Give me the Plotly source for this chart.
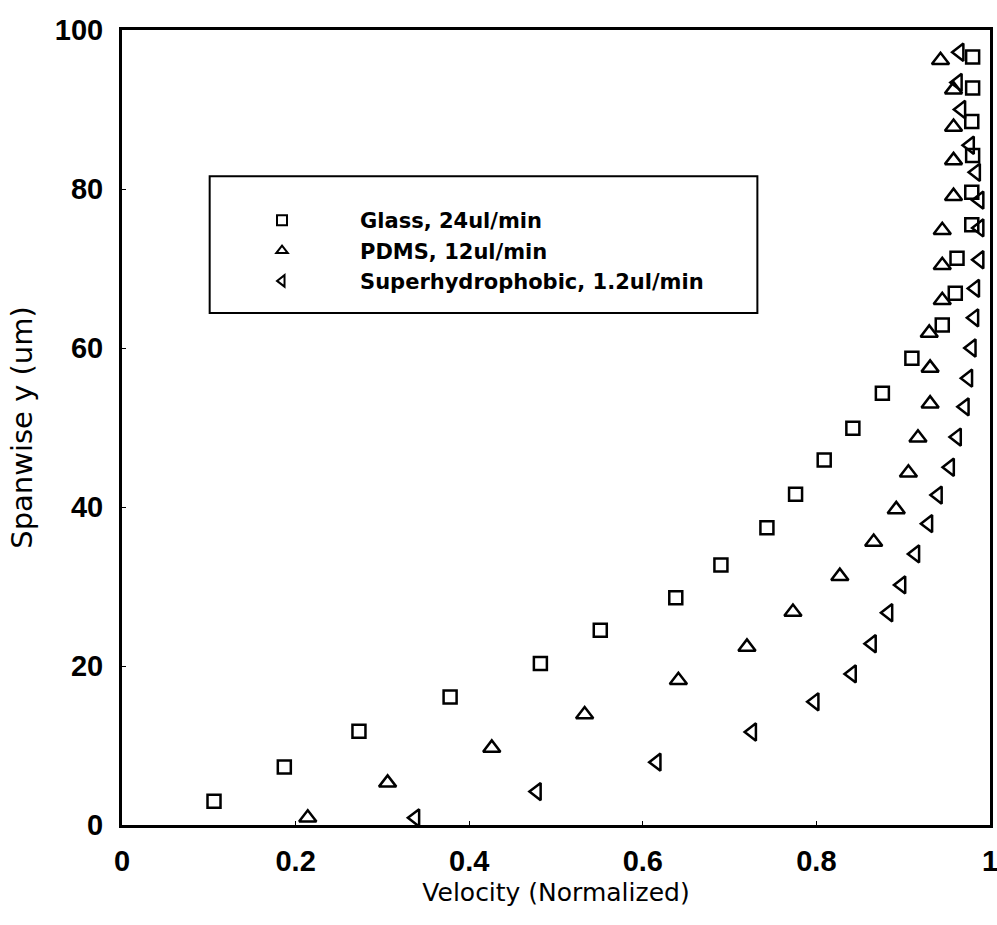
import plotly.graph_objects as go

# Glass, 24ul/min (squares)
glass_x = [0.106, 0.187, 0.273, 0.378, 0.482, 0.551, 0.638, 0.690, 0.743, 0.776, 0.809, 0.842,
           0.876, 0.910, 0.945, 0.960, 0.962, 0.979, 0.979, 0.980, 0.979, 0.980, 0.980]
glass_y = [3.0, 7.3, 11.8, 16.1, 20.3, 24.5, 28.6, 32.7, 37.4, 41.6, 45.9, 49.9,
           54.3, 58.7, 62.9, 66.9, 71.3, 75.5, 79.6, 84.2, 88.5, 92.7, 96.6]

# PDMS, 12ul/min (triangles up)
pdms_x = [0.214, 0.306, 0.426, 0.533, 0.641, 0.720, 0.773, 0.827, 0.866, 0.892, 0.906, 0.917,
          0.931, 0.931, 0.930, 0.945, 0.945, 0.945, 0.958, 0.958, 0.958, 0.958, 0.943]
pdms_y = [0.9, 5.3, 9.7, 13.9, 18.2, 22.4, 26.8, 31.3, 35.6, 39.7, 44.3, 48.7,
          53.0, 57.5, 61.9, 66.0, 70.4, 74.8, 79.1, 83.6, 87.8, 92.5, 96.2]

# Superhydrophobic, 1.2ul/min (triangles left)
shp_x = [0.338, 0.478, 0.616, 0.726, 0.798, 0.841, 0.864, 0.883, 0.898, 0.914, 0.929, 0.940,
         0.954, 0.962, 0.971, 0.975, 0.979, 0.982, 0.983, 0.988, 0.988, 0.988, 0.984, 0.977,
         0.967, 0.963, 0.965]
shp_y = [0.9, 4.2, 7.9, 11.7, 15.5, 19.0, 22.8, 26.7, 30.2, 34.1, 37.9, 41.5,
         45.0, 48.8, 52.6, 56.2, 60.0, 63.8, 67.5, 71.1, 75.1, 78.6, 82.1, 85.5,
         90.0, 93.4, 97.2]

names = ["Glass, 24ul/min", "PDMS, 12ul/min", "Superhydrophobic, 1.2ul/min"]
x_ticks = [0, 0.2, 0.4, 0.6, 0.8, 1]
x_tick_text = ["0", "0.2", "0.4", "0.6", "0.8", "1"]
y_ticks = [0, 20, 40, 60, 80, 100]

series = [
    (glass_x, glass_y, "square-open", 13),
    (pdms_x, pdms_y, "triangle-up-open", 15),
    (shp_x, shp_y, "triangle-left-open", 15),
]

fig = go.Figure()
for (xs, ys, sym, sz), name in zip(series, names):
    fig.add_trace(go.Scatter(
        x=xs, y=ys, mode="markers", name=name, showlegend=False,
        marker=dict(symbol=sym, size=sz, color="black", line=dict(width=2.5, color="black")),
        cliponaxis=False,
    ))
for (xs, ys, sym, sz), name in zip(series, names):
    fig.add_trace(go.Scatter(
        x=[None], y=[None], mode="markers", name=name, showlegend=True,
        marker=dict(symbol=sym, size=10, color="black", line=dict(width=2, color="black")),
    ))

fig.add_shape(type="rect", xref="paper", yref="paper", x0=0.101, x1=0.732, y0=0.644, y1=0.816,
              line=dict(color="black", width=2), fillcolor="white", layer="below")

font = "Liberation Sans, Arial, sans-serif"
wide = "DejaVu Sans, Liberation Sans, sans-serif"
fig.update_layout(
    width=997, height=925,
    margin=dict(l=122, r=7, t=30, b=100),
    paper_bgcolor="white", plot_bgcolor="white",
    showlegend=True,
    legend=dict(x=0.0945, y=0.786, xanchor="left", yanchor="top",
                bgcolor="rgba(0,0,0,0)", itemwidth=146,
                font=dict(family=wide, size=21, color="black", weight="bold"),
                tracegroupgap=0, itemclick=False),
    xaxis=dict(range=[0, 1], tickvals=x_ticks, ticktext=x_tick_text, automargin=False,
               ticklabeloverflow="allow",
               showline=True, linecolor="black", linewidth=3, mirror=True,
               showgrid=False, zeroline=False, ticks="inside", ticklen=4, tickcolor="black",
               ticklabelstandoff=8,
               tickfont=dict(family=font, size=29, color="black", weight="bold"),
               title=dict(text="Velocity (Normalized)", standoff=8,
                          font=dict(family=wide, size=25, color="black"))),
    yaxis=dict(range=[0, 100], tickvals=y_ticks, automargin=False,
               ticklabeloverflow="allow",
               showline=True, linecolor="black", linewidth=3, mirror=True,
               showgrid=False, zeroline=False, ticks="inside", ticklen=4, tickcolor="black",
               ticklabelstandoff=10,
               tickfont=dict(family=font, size=29, color="black", weight="bold"),
               title=dict(text="Spanwise y (um)", standoff=14,
                          font=dict(family=wide, size=29, color="black"))),
)

fig.write_html("out.html")
